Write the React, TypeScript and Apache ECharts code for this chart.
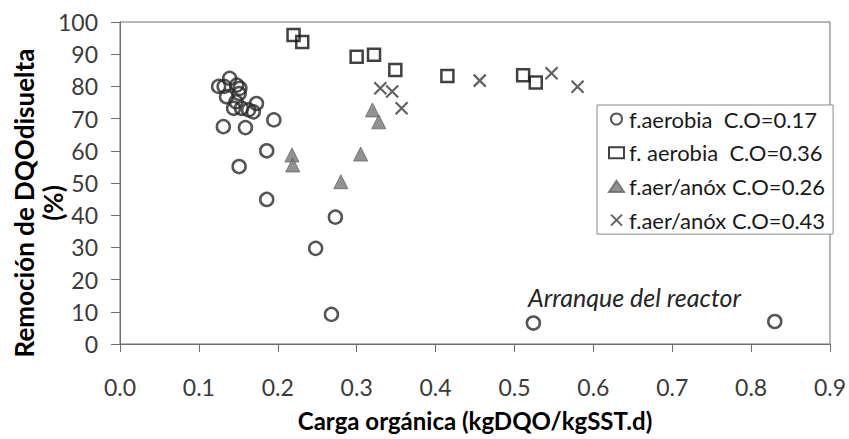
import React, { useEffect, useRef } from "react";
import * as echarts from "echarts";

const xTicks = [0, 0.1, 0.2, 0.3, 0.4, 0.5, 0.6, 0.7, 0.8, 0.9];
const yTicks = [0, 10, 20, 30, 40, 50, 60, 70, 80, 90, 100];

const seriesNames = [
  "f.aerobia  C.O=0.17",
  "f. aerobia  C.O=0.36",
  "f.aer/anóx C.O=0.26",
  "f.aer/anóx C.O=0.43",
];

const aer017X = [0.125, 0.132, 0.139, 0.135, 0.148, 0.152, 0.151, 0.147, 0.144, 0.154, 0.163, 0.169, 0.173, 0.131, 0.159, 0.195, 0.186, 0.151, 0.186, 0.273, 0.248, 0.268, 0.524, 0.83];
const aer017Y = [80, 80, 82.5, 76.8, 80.4, 79.4, 77.8, 75.2, 73.2, 73.2, 72.7, 72.1, 74.7, 67.5, 67.2, 69.6, 60, 55.1, 44.9, 39.4, 29.7, 9.2, 6.5, 7];

const aer036X = [0.22, 0.231, 0.3, 0.322, 0.349, 0.415, 0.511, 0.527];
const aer036Y = [96, 93.8, 89.2, 89.8, 85.1, 83.2, 83.5, 81.2];

const anox026X = [0.218, 0.219, 0.28, 0.305, 0.32, 0.328];
const anox026Y = [58.7, 55.6, 50.4, 59, 72.7, 69];

const anox043X = [0.33, 0.345, 0.357, 0.456, 0.547, 0.58];
const anox043Y = [79.4, 78.4, 73.2, 81.8, 84.1, 79.9];

const xTitle = "Carga orgánica (kgDQO/kgSST.d)";
const yTitleLines = ["Remoción de DQOdisuelta", "(%)"];
const annotation = "Arranque del reactor";

const zip = (xs: number[], ys: number[]) => xs.map((x, i) => [x, ys[i]]);

const FONT = "Lato";

export default function App() {
  const ref = useRef<HTMLDivElement>(null);
  useEffect(() => {
    if (!ref.current) return;
    const chart = echarts.init(ref.current, undefined, { renderer: "svg" });
    chart.setOption({
      animation: false,
      backgroundColor: "#fff",
      textStyle: { fontFamily: FONT },
      grid: {
        left: 120,
        right: 19,
        top: 22,
        bottom: 95,
        containLabel: false,
        outerBoundsMode: "none",
        show: true,
        borderColor: "#6e6e6e",
        borderWidth: 1,
        backgroundColor: "transparent",
      },
      xAxis: {
        type: "value",
        min: xTicks[0],
        max: xTicks[xTicks.length - 1],
        interval: 0.1,
        name: xTitle,
        nameLocation: "middle",
        nameGap: 64,
        nameTextStyle: { fontFamily: FONT, fontSize: 24, fontWeight: "bold", color: "#000" },
        axisLine: { lineStyle: { color: "#6e6e6e", width: 1 } },
        axisTick: { show: true, length: 8, lineStyle: { color: "#6e6e6e" } },
        axisLabel: {
          margin: 31,
          fontSize: 23,
          color: "#3a3a3a",
          fontFamily: FONT,
          formatter: (v: number) => v.toFixed(1),
        },
        splitLine: { show: false },
      },
      yAxis: {
        type: "value",
        min: yTicks[0],
        max: yTicks[yTicks.length - 1],
        interval: 10,
        axisLine: { show: true, lineStyle: { color: "#6e6e6e", width: 1 } },
        axisTick: { show: true, length: 9, lineStyle: { color: "#6e6e6e" } },
        axisLabel: { margin: 22, fontSize: 23, color: "#3a3a3a", fontFamily: FONT },
        splitLine: { show: false },
      },
      legend: {
        orient: "vertical",
        left: 597,
        top: 105,
        itemWidth: 15,
        itemHeight: 11,
        itemGap: 11.7,
        padding: [3, 8, 3, 11],
        borderColor: "#8c8c8c",
        borderWidth: 1,
        backgroundColor: "#fff",
        textStyle: { fontFamily: FONT, fontSize: 22, color: "#1a1a1a" },
        data: seriesNames,
      },
      graphic: [
        {
          type: "text",
          x: 24,
          y: 203,
          rotation: Math.PI / 2,
          style: {
            text: yTitleLines[0],
            fontFamily: FONT,
            fontSize: 26,
            fontWeight: "bold",
            fill: "#000",
            textAlign: "center",
            textVerticalAlign: "middle",
          },
        },
        {
          type: "text",
          x: 53,
          y: 203,
          rotation: Math.PI / 2,
          style: {
            text: yTitleLines[1],
            fontFamily: FONT,
            fontSize: 26,
            fontWeight: "bold",
            fill: "#000",
            textAlign: "center",
            textVerticalAlign: "middle",
          },
        },
        {
          type: "text",
          x: 528,
          y: 297,
          style: {
            text: annotation,
            fontFamily: FONT,
            fontSize: 25,
            fontStyle: "italic",
            fill: "#262626",
            textAlign: "left",
            textVerticalAlign: "middle",
          },
        },
      ],
      series: [
        {
          name: seriesNames[0],
          type: "scatter",
          symbol: "circle",
          symbolSize: 13,
          data: zip(aer017X, aer017Y),
          itemStyle: { color: "rgba(255,255,255,0)", borderColor: "#2b2b2b", borderWidth: 2.5 },
        },
        {
          name: seriesNames[1],
          type: "scatter",
          symbol: "rect",
          symbolSize: 12,
          data: zip(aer036X, aer036Y),
          itemStyle: { color: "rgba(255,255,255,0)", borderColor: "#111", borderWidth: 2.5 },
        },
        {
          name: seriesNames[2],
          type: "scatter",
          symbol: "triangle",
          symbolSize: 14,
          data: zip(anox026X, anox026Y),
          itemStyle: { color: "#777", borderColor: "#666", borderWidth: 1 },
        },
        {
          name: seriesNames[3],
          type: "scatter",
          symbol: "path://M0,0L10,10M10,0L0,10",
          symbolSize: 12,
          data: zip(anox043X, anox043Y),
          itemStyle: { color: "none", borderColor: "#3a3a3a", borderWidth: 2.2 },
        },
      ],
    });
    return () => chart.dispose();
  }, []);
  return (
    <div
      ref={ref}
      style={{ position: "absolute", left: 0, top: 0, width: 849, height: 439 }}
    />
  );
}
